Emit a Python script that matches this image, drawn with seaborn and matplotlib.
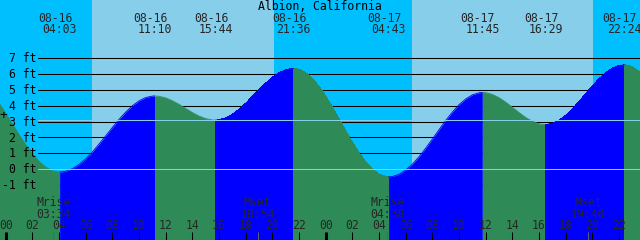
import numpy as np
import pandas as pd
import matplotlib
matplotlib.use("Agg")
import matplotlib.pyplot as plt
import matplotlib.transforms as mtrans
import seaborn as sns

# ---------------- data ----------------
title = "Albion, California"

# tide height (ft) every half hour, starting 08-16 -00:30
curve_start_h = -0.5
curve_step_h = 0.5
curve_ft = [
    4.18, 3.53, 2.85, 2.18, 1.54, 0.97, 0.49, 0.13,
    -0.10, -0.19, -0.14, 0.02, 0.29, 0.65, 1.08, 1.58,
    2.10, 2.63, 3.14, 3.60, 4.00, 4.31, 4.52, 4.61,
    4.60, 4.50, 4.32, 4.09, 3.83, 3.57, 3.35, 3.19,
    3.10, 3.11, 3.23, 3.45, 3.77, 4.15, 4.58, 5.01,
    5.42, 5.79, 6.08, 6.27, 6.35, 6.30, 6.08, 5.72,
    5.22, 4.60, 3.91, 3.17, 2.42, 1.69, 1.02, 0.45,
    -0.01, -0.32, -0.47, -0.47, -0.33, -0.06, 0.31, 0.78,
    1.32, 1.90, 2.49, 3.07, 3.60, 4.07, 4.43, 4.69,
    4.82, 4.83, 4.72, 4.51, 4.23, 3.90, 3.57, 3.26,
    3.02, 2.86, 2.81, 2.88, 3.08, 3.39, 3.79, 4.26,
    4.75, 5.25, 5.70, 6.08, 6.37, 6.54, 6.58, 6.46,
    6.15, 5.69,
]

event_dates = ["08-16", "08-16", "08-16", "08-16", "08-17", "08-17", "08-17", "08-17"]
event_times = ["04:03", "11:10", "15:44", "21:36", "04:43", "11:45", "16:29", "22:24"]
event_day = [0, 0, 0, 0, 1, 1, 1, 1]
event_ft = [-0.19, 4.62, 3.09, 6.35, -0.49, 4.84, 2.81, 6.58]
event_kind = ["low", "high", "low", "high", "low", "high", "low", "high"]

moon_labels = ["Mrise", "Mset", "Mrise", "Mset"]
moon_times = ["03:34", "18:54", "04:38", "19:40"]
moon_day = [0, 0, 1, 1]

sunrise_times = ["06:28", "06:29"]
sunset_times = ["20:08", "20:04"]
sun_day = [0, 1]

level_ft = [-1, 0, 1, 2, 3, 4, 5, 6, 7]
level_labels = [f"{v} ft" for v in level_ft]
datum_ft = 0.0
msl_ft = 3.07

hour_ticks = list(range(0, 50, 2))
hour_labels = [f"{h % 24:02d}" for h in hour_ticks]

# ---------------- style ----------------
NIGHT = "#00BFFF"
DAY = "#87CEEB"
FALL = "#2E8B57"
RISE = "#0000FF"
LIGHT = "#87CEEB"

sns.set_style("white")
plt.rcParams["font.family"] = ["DejaVu Sans Mono", "DejaVu Sans"]
FS = 8.3


def to_h(s, day):
    return day * 24 + int(s[:2]) + int(s[3:]) / 60.0


ev_h = [to_h(s, d) for s, d in zip(event_times, event_day)]
moon_h = [to_h(s, d) for s, d in zip(moon_times, moon_day)]
rise_h = [to_h(s, d) for s, d in zip(sunrise_times, sun_day)]
set_h = [to_h(s, d) for s, d in zip(sunset_times, sun_day)]

W, H = 640, 240
fig = plt.figure(figsize=(6.4, 2.4), dpi=100)
ax = fig.add_axes([0, 0, 1, 1])
xmin = -5.67 / 13.333
xmax = xmin + 48.0
ymin, ymax = -4.48, 10.68
ax.set_xlim(xmin, xmax)
ax.set_ylim(ymin, ymax)
ax.set_axis_off()

# sky (night / day)
edges = [xmin - 1]
for r, s in zip(rise_h, set_h):
    edges += [r, s]
edges.append(xmax + 1)
for i in range(len(edges) - 1):
    ax.axvspan(edges[i], edges[i + 1], color=NIGHT if i % 2 == 0 else DAY,
               lw=0, zorder=0)

# black level lines
x0 = 38 / W
for v in level_ft:
    ax.axhline(v, xmin=x0, xmax=1, color="black", lw=0.75, zorder=1)

# tide curve split at extremes
grid_h = curve_start_h + curve_step_h * np.arange(len(curve_ft))
cf = np.array(curve_ft)
bounds = [-np.inf] + ev_h + [np.inf]
rows = []
for s in range(len(bounds) - 1):
    lo, hi = bounds[s], bounds[s + 1]
    m = (grid_h > lo) & (grid_h < hi)
    hs = list(grid_h[m])
    fs = list(cf[m])
    if s > 0:
        hs.insert(0, ev_h[s - 1])
        fs.insert(0, event_ft[s - 1])
    if s < len(ev_h):
        hs.append(ev_h[s])
        fs.append(event_ft[s])
    rising = s < len(ev_h) and event_kind[s] == "high"
    phase = "rise" if rising else "fall"
    for h_, f_ in zip(hs, fs):
        rows.append({"hours": h_, "ft": f_, "phase": phase, "segment": s})
df = pd.DataFrame(rows)

for s, g in df.groupby("segment"):
    col = RISE if g["phase"].iloc[0] == "rise" else FALL
    ax.fill_between(g["hours"], g["ft"], ymin - 5, color=col, lw=0,
                    antialiased=False, zorder=2)
sns.lineplot(data=df, x="hours", y="ft", hue="phase", units="segment",
             estimator=None, sort=False, palette={"rise": RISE, "fall": FALL},
             lw=0.6, legend=False, ax=ax, zorder=2.5)
ax.set_xlim(xmin, xmax)
ax.set_ylim(ymin, ymax)
ax.set_axis_off()

# datum / MSL lines
for v in (datum_ft, msl_ft):
    ax.axhline(v, xmin=x0, xmax=1, color=LIGHT, lw=0.75, zorder=3)

# level labels
for v, lab in zip(level_ft, level_labels):
    tr = mtrans.offset_copy(ax.get_yaxis_transform(), fig=fig, x=0, y=-4.2,
                            units="dots")
    ax.text(36.5 / W, v, lab, transform=tr, ha="right", va="baseline",
            fontsize=FS, color="black", zorder=4)
ax.text(3.5 / W, 1 - 115 / H, "+", transform=ax.transAxes, ha="center",
        va="center", fontsize=FS + 1, color="black", zorder=4)

# title
ax.text(0.5, 1 - 10 / H, title, transform=ax.transAxes, ha="center",
        va="baseline", fontsize=FS, color="black", zorder=4)

# tide event labels
xt = ax.get_xaxis_transform()
for h_, d_, t_ in zip(ev_h, event_dates, event_times):
    trd = mtrans.offset_copy(xt, fig=fig, x=-4.5, y=0, units="dots")
    ax.text(h_, 1 - 21.7 / H, d_, transform=trd, ha="center", va="baseline",
            fontsize=FS, zorder=4)
    ax.text(h_, 1 - 33.3 / H, t_, transform=xt, ha="center", va="baseline",
            fontsize=FS, zorder=4)

# moon events
for h_, lab, t_ in zip(moon_h, moon_labels, moon_times):
    ax.text(h_, 1 - 206 / H, lab, transform=xt, ha="center", va="baseline",
            fontsize=FS, zorder=4)
    ax.text(h_, 1 - 218.3 / H, t_, transform=xt, ha="center", va="baseline",
            fontsize=FS, zorder=4)
    ax.vlines(h_, 0, 8 / H, transform=xt, color="#606060", lw=0.75, zorder=4)

# hour ticks
for h_, lab in zip(hour_ticks, hour_labels):
    ax.text(h_, 1 - 229.3 / H, lab, transform=xt, ha="center", va="baseline",
            fontsize=FS, zorder=4)
    ax.vlines(h_, 0, 8.3 / H, transform=xt, color="black",
              lw=2.2 if h_ % 24 == 0 else 0.75, zorder=4)

fig.savefig("out.png", dpi=100)
